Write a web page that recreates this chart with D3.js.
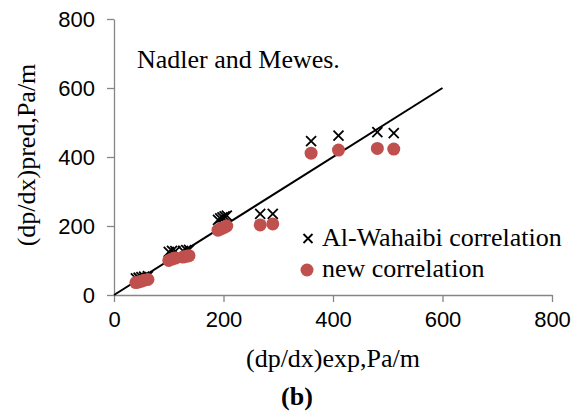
<!DOCTYPE html>
<html>
<head>
<meta charset="utf-8">
<script src="https://cdn.jsdelivr.net/npm/d3@7"></script>
<style>
  body { margin: 0; background: #fff; }
  svg { display: block; }
  .tick text { font-family: "Liberation Sans", Arial, sans-serif; font-size: 22px; fill: #000; }
  .serif { font-family: "Liberation Serif", "Times New Roman", serif; font-size: 26px; fill: #000; }
</style>
</head>
<body>
<svg id="chart" width="580" height="413"></svg>
<script>
// values
const expValues = [40, 45, 50, 55, 62, 100, 106, 112, 126, 132, 137, 190, 194, 198, 202, 206, 267, 290, 360, 410, 481, 511];
const wahaibiPred = [48, 50, 52, 53, 55, 125, 128, 127, 128, 130, 131, 218, 222, 225, 228, 230, 235, 235, 446, 462, 472, 469];
const newPred = [36, 38, 40, 43, 45, 100, 104, 107, 110, 112, 114, 188, 191, 194, 197, 200, 203, 206, 411, 420, 425, 423];
const tickValues = [0, 200, 400, 600, 800];
const parityLine = [0, 600];

const svg = d3.select("#chart");
const margin = { left: 114, right: 28, top: 19, bottom: 118 };
const width = 580 - margin.left - margin.right;
const height = 413 - margin.top - margin.bottom;

const x = d3.scaleLinear().domain([0, 800]).range([0, width]);
const y = d3.scaleLinear().domain([0, 800]).range([height, 0]);

const g = svg.append("g").attr("transform", `translate(${margin.left},${margin.top})`);

function styleAxis(sel) {
  sel.select(".domain").attr("stroke", "#868686").attr("stroke-width", 1.3);
  sel.selectAll(".tick line").attr("stroke", "#868686").attr("stroke-width", 1.3);
}

g.append("g")
  .attr("transform", `translate(0,${height})`)
  .call(d3.axisBottom(x).tickValues(tickValues).tickSize(7).tickSizeOuter(0).tickPadding(9))
  .call(styleAxis);

g.append("g")
  .call(d3.axisLeft(y).tickValues(tickValues).tickSize(7).tickSizeOuter(0).tickPadding(12))
  .call(styleAxis);

// 1:1 line
g.append("line")
  .attr("x1", x(parityLine[0])).attr("y1", y(parityLine[0]))
  .attr("x2", x(parityLine[1])).attr("y2", y(parityLine[1]))
  .attr("stroke", "#000").attr("stroke-width", 2);

const crossSize = 5;
function crossPath(cx, cy, s) {
  return `M${cx - s},${cy - s}L${cx + s},${cy + s}M${cx - s},${cy + s}L${cx + s},${cy - s}`;
}

g.append("g").selectAll("path")
  .data(expValues.map((v, i) => [v, wahaibiPred[i]]))
  .join("path")
  .attr("d", d => crossPath(x(d[0]), y(d[1]), crossSize))
  .attr("stroke", "#000").attr("stroke-width", 1.8).attr("fill", "none");

g.append("g").selectAll("circle")
  .data(expValues.map((v, i) => [v, newPred[i]]))
  .join("circle")
  .attr("cx", d => x(d[0])).attr("cy", d => y(d[1]))
  .attr("r", 6.5)
  .attr("fill", "#c0504d");

// legend
const legend = svg.append("g");
legend.append("path").attr("d", crossPath(308, 238.5, 4.5))
  .attr("stroke", "#000").attr("stroke-width", 1.8);
legend.append("text").attr("class", "serif").attr("x", 322).attr("y", 246).text("Al-Wahaibi correlation");
legend.append("circle").attr("cx", 307).attr("cy", 270).attr("r", 6.5).attr("fill", "#c0504d");
legend.append("text").attr("class", "serif").attr("x", 322).attr("y", 277).text("new correlation");

svg.append("text").attr("class", "serif").attr("x", 137).attr("y", 68).text("Nadler and Mewes.");

svg.append("text").attr("class", "serif")
  .attr("x", 333).attr("y", 367).attr("text-anchor", "middle")
  .text("(dp/dx)exp,Pa/m");

svg.append("text").attr("class", "serif")
  .attr("transform", "translate(35,155) rotate(-90)")
  .attr("text-anchor", "middle")
  .text("(dp/dx)pred,Pa/m");

svg.append("text").attr("class", "serif")
  .attr("x", 297).attr("y", 405).attr("text-anchor", "middle")
  .style("font-weight", "bold")
  .text("(b)");
</script>
</body>
</html>
